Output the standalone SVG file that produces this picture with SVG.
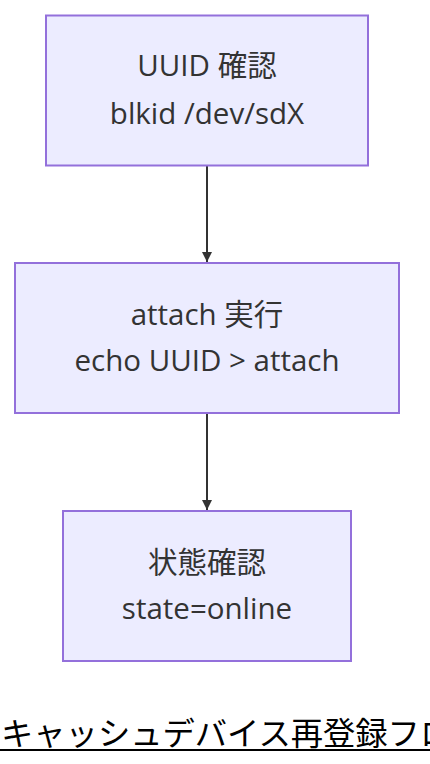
<svg xmlns="http://www.w3.org/2000/svg" width="430" height="764" viewBox="0 0 430 764">
<defs>
<style>
.node rect{fill:#ECECFF;stroke:#9370DB;stroke-width:2}
.node text{font-family:"Open Sans","Noto Sans","Noto Sans CJK JP",sans-serif;font-size:29.5px;fill:#333;text-anchor:middle}
.edge{stroke:#333;stroke-width:2;fill:none}
.title{font-family:"Noto Sans CJK JP",sans-serif;font-size:32.3px;fill:#000}
</style>
<marker id="arrow" viewBox="0 0 10 10" refX="10" refY="5" markerWidth="10" markerHeight="10" markerUnits="userSpaceOnUse" orient="auto">
<path d="M0,0 L10,5 L0,10 z" fill="#333"/>
</marker>
</defs>
<rect width="430" height="764" fill="#fff"/>
<g id="connectors">
<line class="edge" x1="207" y1="166" x2="207" y2="262" marker-end="url(#arrow)"/>
<line class="edge" x1="207" y1="414" x2="207" y2="510" marker-end="url(#arrow)"/>
</g>
<g id="node1" class="node">
<rect x="46" y="15.5" width="322" height="150"/>
<text x="207" y="76">UUID 確認</text>
<text x="207" y="124">blkid /dev/sdX</text>
</g>
<g id="node2" class="node">
<rect x="15" y="263" width="384" height="150"/>
<text x="207" y="325">attach 実行</text>
<text x="207" y="371">echo UUID &gt; attach</text>
</g>
<g id="node3" class="node">
<rect x="63" y="511" width="288" height="150"/>
<text x="207" y="573">状態確認</text>
<text x="207" y="619">state=online</text>
</g>
<g id="title">
<text class="title" x="1" y="745">キャッシュデバイス再登録フロー</text>
<line x1="0" y1="750" x2="430" y2="750" stroke="#000" stroke-width="2"/>
</g>
</svg>
